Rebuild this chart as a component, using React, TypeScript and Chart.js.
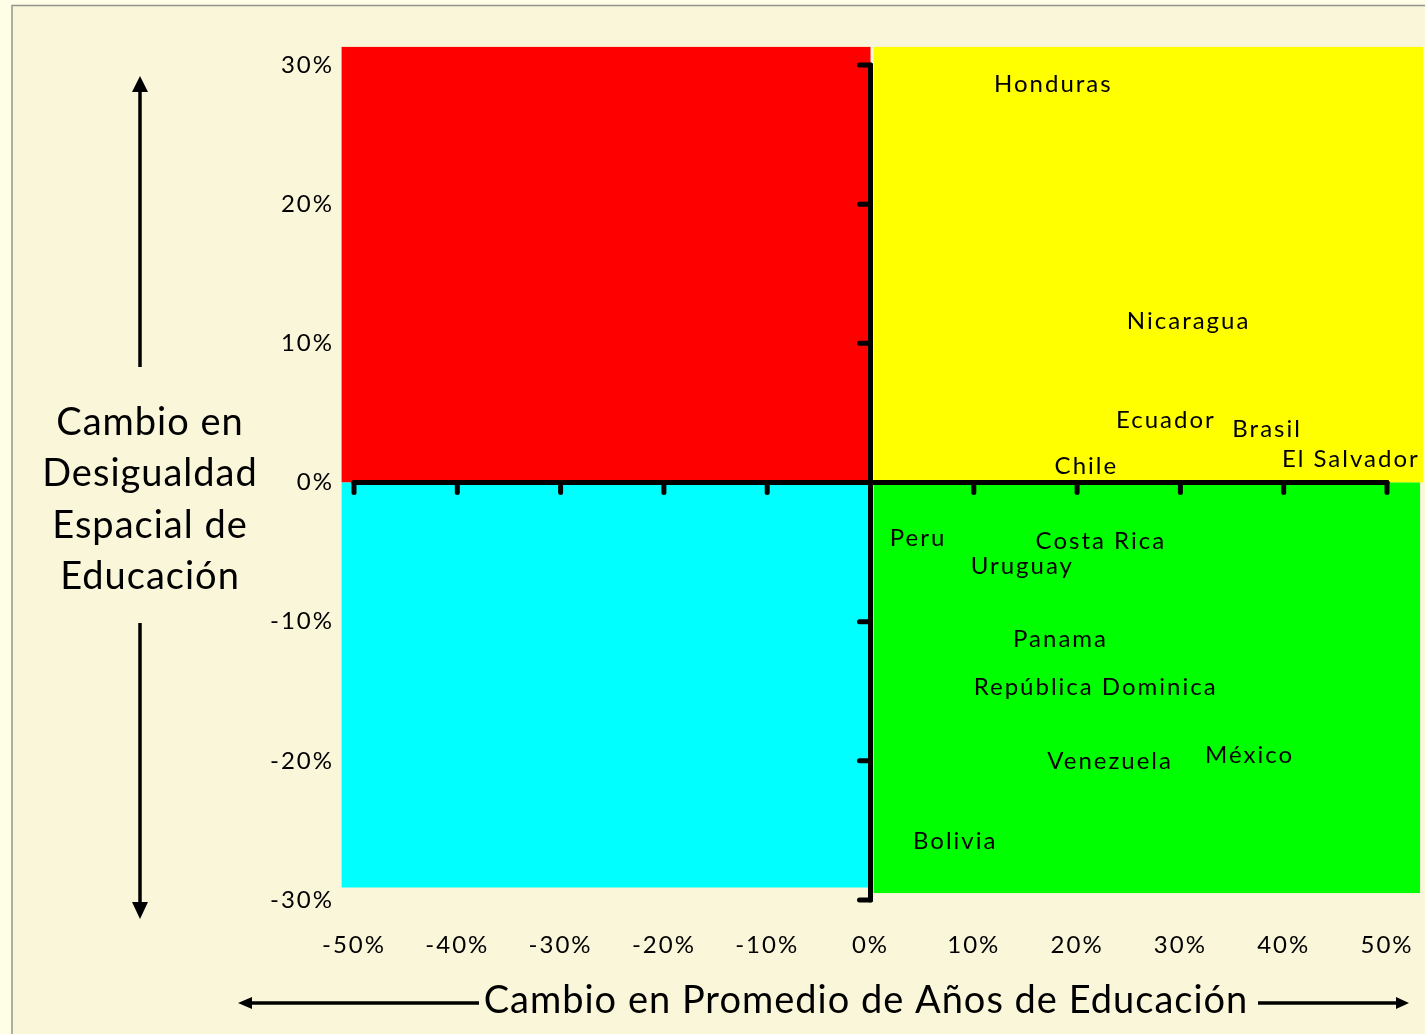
import React, { useEffect, useRef } from 'react';
import { Chart, registerables } from 'chart.js';

Chart.register(...registerables);

// ---- data ----
const countries = [
  'Honduras', 'Nicaragua', 'Ecuador', 'Brasil', 'Chile', 'El Salvador',
  'Peru', 'Costa Rica', 'Uruguay', 'Panama', 'República Dominica',
  'Venezuela', 'México', 'Bolivia',
];
const educationChange = [17.6, 30.7, 28.5, 38.3, 20.8, 46.4, 4.5, 22.2, 14.6, 18.3, 21.7, 23.1, 36.6, 8.1];
const inequalityChange = [28.6, 11.6, 4.5, 3.8, 1.2, 1.7, -4.0, -4.2, -6.0, -11.3, -14.7, -20.0, -19.6, -25.8];

// quadrant background blocks (in axis units): red, yellow, cyan, green
const quadrantColors = ['#FF0000', '#FFFF00', '#00FFFF', '#00FF00'];
const quadrantXFrom = [-51.2, 0.3, -51.2, 0.3];
const quadrantXTo = [0, 53.5, 0, 53.2];
const quadrantYFrom = [0, 0, -29.1, -29.5];
const quadrantYTo = [31.3, 31.3, 0, 0];

const xMin = -50, xMax = 50, xStep = 10;
const yMin = -30, yMax = 30, yStep = 10;

const yTitleLines = ['Cambio en', 'Desigualdad', 'Espacial de', 'Educación'];
const xTitle = 'Cambio en Promedio de Años de Educación';

const FONT = 'Lato, "Open Sans", sans-serif';

function drawArrow(ctx: CanvasRenderingContext2D, x1: number, y1: number, x2: number, y2: number, headLen: number, headHalf: number) {
  const ang = Math.atan2(y2 - y1, x2 - x1);
  const bx = x2 - headLen * Math.cos(ang);
  const by = y2 - headLen * Math.sin(ang);
  ctx.beginPath();
  ctx.moveTo(x1, y1);
  ctx.lineTo(bx, by);
  ctx.stroke();
  ctx.beginPath();
  ctx.moveTo(x2, y2);
  ctx.lineTo(bx + headHalf * Math.sin(ang), by - headHalf * Math.cos(ang));
  ctx.lineTo(bx - headHalf * Math.sin(ang), by + headHalf * Math.cos(ang));
  ctx.closePath();
  ctx.fill();
}

const backgroundPlugin = {
  id: 'bgFrame',
  beforeDraw(chart: any) {
    const { ctx, width, height } = chart;
    ctx.save();
    ctx.fillStyle = '#FEFDE6';
    ctx.fillRect(0, 0, width, height);
    ctx.fillStyle = '#FAF6D9';
    ctx.fillRect(12, 5, width - 12, height - 5);
    ctx.strokeStyle = '#959590';
    ctx.lineWidth = 1.5;
    ctx.beginPath();
    ctx.moveTo(12, height);
    ctx.lineTo(12, 5.5);
    ctx.lineTo(width, 5.5);
    ctx.stroke();
    ctx.restore();
    // wider glyph spacing for the axis tick labels drawn by Chart.js
    (ctx as any).letterSpacing = '2px';
  },
};

const quadrantPlugin = {
  id: 'quadrants',
  beforeDatasetsDraw(chart: any) {
    const { ctx } = chart;
    const xs = chart.scales.x;
    const ys = chart.scales.y;
    ctx.save();
    for (let i = 0; i < quadrantColors.length; i++) {
      const l = xs.getPixelForValue(quadrantXFrom[i]);
      const r = xs.getPixelForValue(quadrantXTo[i]);
      const t = ys.getPixelForValue(quadrantYTo[i]);
      const b = ys.getPixelForValue(quadrantYFrom[i]);
      ctx.fillStyle = quadrantColors[i];
      ctx.fillRect(l, t, r - l, b - t);
    }
    // crossing axes at zero
    const x0 = xs.getPixelForValue(0);
    const y0 = ys.getPixelForValue(0);
    ctx.strokeStyle = '#000';
    ctx.lineWidth = 5;
    ctx.lineCap = 'round';
    ctx.beginPath();
    ctx.moveTo(x0, ys.getPixelForValue(yMax));
    ctx.lineTo(x0, ys.getPixelForValue(yMin));
    ctx.stroke();
    ys.ticks.forEach((t: any) => {
      const py = ys.getPixelForValue(t.value);
      ctx.beginPath();
      ctx.moveTo(x0, py);
      ctx.lineTo(x0 - 11, py);
      ctx.stroke();
    });
    ctx.beginPath();
    ctx.moveTo(xs.getPixelForValue(xMin), y0);
    ctx.lineTo(xs.getPixelForValue(xMax), y0);
    ctx.stroke();
    xs.ticks.forEach((t: any) => {
      const px = xs.getPixelForValue(t.value);
      ctx.beginPath();
      ctx.moveTo(px, y0);
      ctx.lineTo(px, y0 + 10);
      ctx.stroke();
    });
    ctx.restore();
  },
};

const labelPlugin = {
  id: 'countryLabels',
  afterDatasetsDraw(chart: any) {
    const { ctx } = chart;
    const meta = chart.getDatasetMeta(0);
    ctx.save();
    ctx.fillStyle = '#000';
    ctx.font = `24px ${FONT}`;
    (ctx as any).letterSpacing = '2px';
    ctx.textAlign = 'center';
    ctx.textBaseline = 'middle';
    meta.data.forEach((pt: any, i: number) => {
      ctx.fillText(countries[i], pt.x + 1, pt.y);
    });
    ctx.restore();
  },
};

const titlesPlugin = {
  id: 'axisTitles',
  afterDraw(chart: any) {
    const { ctx } = chart;
    ctx.save();
    ctx.fillStyle = '#000';
    ctx.strokeStyle = '#000';
    ctx.font = `38px ${FONT}`;
    (ctx as any).letterSpacing = '1px';
    ctx.textAlign = 'center';
    ctx.textBaseline = 'alphabetic';
    const baselines = [435, 486, 538, 589];
    yTitleLines.forEach((line, i) => ctx.fillText(line, 150, baselines[i]));
    ctx.fillText(xTitle, 866, 1013);
    ctx.lineWidth = 3.5;
    ctx.lineCap = 'butt';
    drawArrow(ctx, 140, 367, 140, 76, 16, 8);
    drawArrow(ctx, 140, 623, 140, 919, 17, 8);
    drawArrow(ctx, 479, 1003, 238, 1003, 14, 6);
    drawArrow(ctx, 1258, 1003, 1409, 1003, 13, 6);
    ctx.restore();
  },
};

export default function App() {
  const canvasRef = useRef<HTMLCanvasElement | null>(null);

  useEffect(() => {
    if (!canvasRef.current) return;
    const chart = new Chart(canvasRef.current, {
      type: 'scatter',
      data: {
        datasets: [
          {
            label: 'Países',
            data: countries.map((_, i) => ({ x: educationChange[i], y: inequalityChange[i] })),
            pointRadius: 0,
            pointHoverRadius: 0,
            showLine: false,
          },
        ],
      },
      options: {
        animation: false,
        responsive: true,
        maintainAspectRatio: false,
        layout: { padding: { left: 0, top: 65, right: 38, bottom: 0 } },
        plugins: {
          legend: { display: false },
          tooltip: { enabled: false },
        },
        scales: {
          x: {
            type: 'linear',
            min: xMin,
            max: xMax,
            grid: { display: false },
            border: { display: false },
            afterFit: (scale: any) => {
              scale.height = 134;
              scale.paddingLeft = 0;
              scale.paddingRight = 0;
            },
            ticks: {
              stepSize: xStep,
              autoSkip: false,
              maxRotation: 0,
              padding: 23,
              color: '#000',
              font: { family: FONT, size: 24 },
              callback: (v: any) => `${v}%`,
            },
          },
          y: {
            type: 'linear',
            min: yMin,
            max: yMax,
            grid: { display: false },
            border: { display: false },
            afterFit: (scale: any) => {
              scale.width = 354;
              scale.paddingTop = 0;
              scale.paddingBottom = 0;
            },
            ticks: {
              stepSize: yStep,
              padding: 12,
              color: '#000',
              font: { family: FONT, size: 24 },
              callback: (v: any) => `${v}%`,
            },
          },
        },
      },
      plugins: [backgroundPlugin, quadrantPlugin, labelPlugin, titlesPlugin],
    });
    return () => chart.destroy();
  }, []);

  return (
    <div style={{ position: 'absolute', left: 0, top: 0, width: 1425, height: 1034 }}>
      <canvas ref={canvasRef} />
    </div>
  );
}
